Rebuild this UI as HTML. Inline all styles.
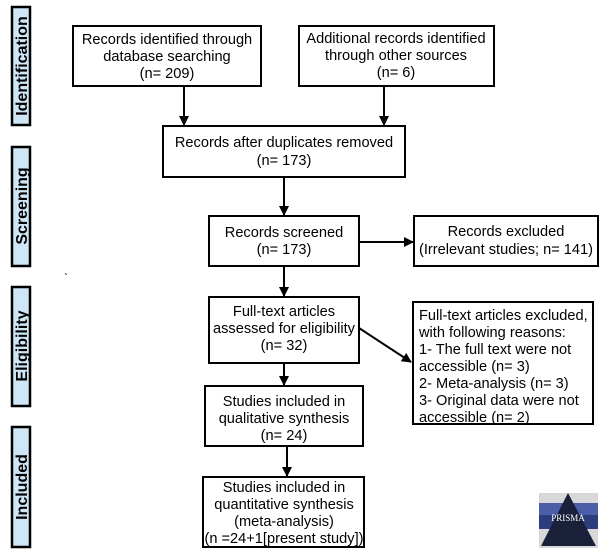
<!DOCTYPE html>
<html><head><style>
body{margin:0;background:#fff;}
svg{display:block;font-family:"Liberation Sans",Arial,sans-serif;}
</style></head><body>
<svg width="614" height="557" viewBox="0 0 614 557">
<defs><marker id="a" markerWidth="10" markerHeight="10" refX="9" refY="5" orient="auto" markerUnits="userSpaceOnUse"><path d="M0,0 L10,5 L0,10 z" fill="#000"/></marker></defs>
<g stroke="#000" stroke-width="2.5" fill="#cfe6f7">
<rect x="12" y="7" width="18" height="118"/>
<rect x="12" y="147" width="18" height="119"/>
<rect x="12" y="287" width="18" height="119"/>
<rect x="12" y="427" width="18" height="120"/>
</g>
<g font-weight="bold" font-size="16" text-anchor="middle" fill="#000">
<text transform="translate(27,66) rotate(-90)">Identification</text>
<text transform="translate(27,206) rotate(-90)">Screening</text>
<text transform="translate(27,346) rotate(-90)">Eligibility</text>
<text transform="translate(27,487) rotate(-90)">Included</text>
</g>
<g stroke="#000" stroke-width="2" fill="#fff">
<rect x="73" y="26" width="188" height="60"/>
<rect x="299" y="26" width="195" height="60"/>
<rect x="163" y="126" width="242" height="51"/>
<rect x="209" y="216" width="150" height="50"/>
<rect x="414" y="216" width="184" height="50"/>
<rect x="209" y="297" width="150" height="66"/>
<rect x="413" y="302" width="180" height="122"/>
<rect x="205" y="386" width="158" height="60"/>
<rect x="203" y="477" width="161" height="70"/>
</g>
<g stroke="#000" stroke-width="2" marker-end="url(#a)">
<line x1="184" y1="86" x2="184" y2="125"/>
<line x1="384" y1="86" x2="384" y2="125"/>
<line x1="284" y1="177" x2="284" y2="215"/>
<line x1="359" y1="242" x2="413" y2="242"/>
<line x1="284" y1="266" x2="284" y2="296"/>
<line x1="359" y1="328" x2="411" y2="362"/>
<line x1="284" y1="363" x2="284" y2="385"/>
<line x1="287" y1="446" x2="287" y2="476"/>
</g>
<g font-size="14.6" fill="#000" text-anchor="middle">
<text x="167" y="44">Records identified through</text>
<text x="167" y="61">database searching</text>
<text x="167" y="78">(n= 209)</text>
<text x="396" y="43">Additional records identified</text>
<text x="396" y="60">through other sources</text>
<text x="396" y="77">(n= 6)</text>
<text x="284" y="147">Records after duplicates removed</text>
<text x="284" y="165">(n= 173)</text>
<text x="284" y="237">Records screened</text>
<text x="284" y="254">(n= 173)</text>
<text x="506" y="236">Records excluded</text>
<text x="506" y="254">(Irrelevant studies; n= 141)</text>
<text x="284" y="316">Full-text articles</text>
<text x="284" y="333">assessed for eligibility</text>
<text x="284" y="350">(n= 32)</text>
<text x="284" y="406">Studies included in</text>
<text x="284" y="423">qualitative synthesis</text>
<text x="284" y="440">(n= 24)</text>
<text x="284" y="492">Studies included in</text>
<text x="284" y="509">quantitative synthesis</text>
<text x="284" y="526">(meta-analysis)</text>
<text x="284" y="543">(n =24+1[present study])</text>
</g>
<g font-size="14.6" fill="#000">
<text x="419" y="320">Full-text articles excluded,</text>
<text x="419" y="337">with following reasons:</text>
<text x="419" y="354">1- The full text were not</text>
<text x="419" y="371">accessible (n= 3)</text>
<text x="419" y="388">2- Meta-analysis (n= 3)</text>
<text x="419" y="405">3- Original data were not</text>
<text x="419" y="422">accessible (n= 2)</text>
</g>
<text x="64" y="282" font-size="12">`</text>
<rect x="539" y="493" width="59" height="55" fill="#d8d8d8"/>
<rect x="539" y="503" width="59" height="12" fill="#4b5fa8"/>
<rect x="539" y="515" width="59" height="14" fill="#2d3d7c"/>
<polygon points="568,493 541,546 596,546" fill="#1a1f3a"/>
<text x="568" y="521" font-size="9" fill="#fff" text-anchor="middle" font-family="Liberation Serif,serif">PRISMA</text>
</svg>
</body></html>
